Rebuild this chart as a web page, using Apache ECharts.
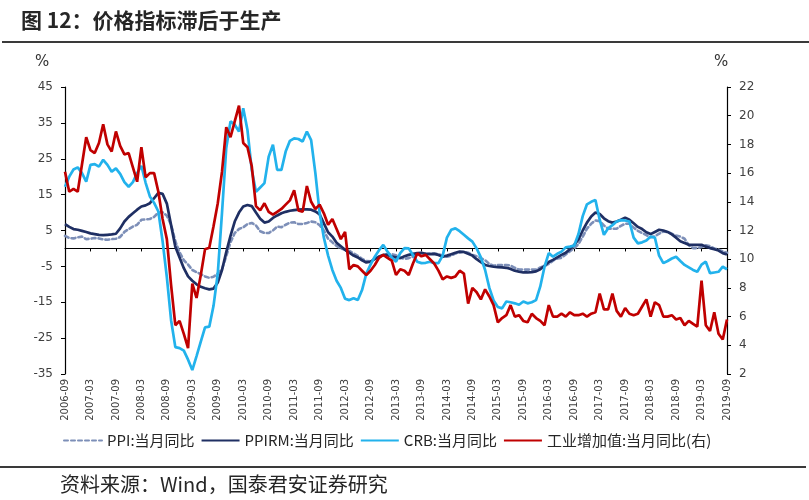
<!DOCTYPE html>
<html><head><meta charset="utf-8">
<script src="https://cdn.jsdelivr.net/npm/echarts@6/dist/echarts.min.js"></script>
<style>html,body{margin:0;padding:0;background:#fff}#c{width:809px;height:500px}</style>
</head><body><div id="c"></div><script>
// categories: monthly 2006-09 .. 2019-09
const startYear = 2006, startMonth = 9, endYear = 2019, endMonth = 9;
const months = [];
for (let y = startYear, m = startMonth; y < endYear || (y === endYear && m <= endMonth);) {
  months.push(y + '-' + (m < 10 ? '0' + m : m));
  m++; if (m > 12) { m = 1; y++; }
}
const leftTicks = { min: -35, max: 45, step: 10 };
const rightTicks = { min: 2, max: 22, step: 2 };

const seriesNames = ['PPI:当月同比', 'PPIRM:当月同比', 'CRB:当月同比', '工业增加值:当月同比(右)'];

const ppi = [3.5,2.9,2.8,3.1,
3.3,2.6,2.7,2.9,2.8,2.5,2.4,2.6,2.7,3.2,4.6,5.4,
6.1,6.6,8.0,8.1,8.2,8.8,10.0,10.1,9.1,6.6,2.0,-1.1,
-3.3,-4.5,-6.0,-6.6,-7.2,-7.8,-8.2,-7.9,-7.0,-5.8,-2.1,1.7,
4.3,5.4,5.9,6.8,7.1,6.4,4.8,4.3,4.3,5.0,6.1,5.9,
6.6,7.2,7.3,6.8,6.8,7.1,7.5,7.3,6.5,5.0,2.7,1.7,
0.7,0.0,-0.3,-0.7,-1.4,-2.1,-2.9,-3.5,-3.6,-2.8,-2.2,-1.9,
-1.6,-1.6,-1.9,-2.6,-2.9,-2.7,-2.3,-1.6,-1.3,-1.5,-1.4,-1.4,
-1.6,-2.0,-2.3,-2.0,-1.4,-1.1,-0.9,-1.2,-1.8,-2.2,-2.7,-3.3,
-4.3,-4.8,-4.6,-4.6,-4.6,-4.8,-5.4,-5.9,-5.9,-5.9,-5.9,-5.9,
-5.3,-4.9,-4.3,-3.4,-2.8,-2.6,-1.7,-0.8,0.1,1.2,3.3,5.5,
6.9,7.8,7.6,6.4,5.5,5.5,5.5,6.3,6.9,6.9,5.8,4.9,
4.3,3.7,3.1,3.4,4.1,4.7,4.6,4.1,3.6,3.3,2.7,0.9,
0.1,0.1,0.4,0.9,0.6,0.0,-0.3,-0.8,-1.2];

const ppirm = [6.8,6.0,5.4,5.2,4.9,4.6,4.2,4.0,3.8,3.7,
3.8,3.9,4.1,5.6,7.5,8.8,9.8,10.8,11.7,12.0,
12.6,14.0,15.5,15.2,12.5,6.5,0.5,-2.5,-5.5,-7.8,
-9.0,-10.0,-10.7,-11.1,-11.4,-11.2,-9.5,-6.0,-1.0,3.5,
7.5,10.0,11.7,12.1,11.8,10.0,8.3,7.2,7.5,8.5,
9.2,9.8,10.2,10.5,10.7,10.8,10.9,10.9,10.8,10.3,
9.5,7.0,4.5,3.3,1.6,0.6,-0.4,-1.2,-2.0,-2.5,
-3.3,-3.9,-3.7,-3.0,-2.3,-1.8,-1.8,-2.3,-2.5,-2.7,
-2.2,-1.8,-1.5,-1.3,-1.2,-1.5,-1.6,-1.5,-1.8,-2.3,
-2.0,-1.6,-1.2,-0.9,-1.0,-1.5,-2.0,-3.0,-3.8,-4.6,
-4.9,-5.1,-5.2,-5.3,-5.4,-5.7,-6.2,-6.5,-6.7,-6.7,
-6.6,-6.4,-5.8,-4.8,-3.8,-3.2,-2.5,-1.8,-1.2,-0.2,
1.0,2.5,5.0,7.2,8.9,10.0,9.6,8.4,7.6,7.2,
7.5,8.0,8.6,8.0,7.0,6.0,5.4,4.5,4.0,4.6,
5.2,5.0,4.6,3.9,3.0,2.0,1.5,1.0,1.0,1.0,
1.0,0.5,0.1,-0.2,-0.6,-1.3,-1.7];

const crb = [17.2,20.0,22.0,22.6,21.0,18.6,23.3,23.5,22.8,24.7,
23.3,21.4,22.3,20.8,18.5,17.2,18.5,21.0,23.0,18.3,
14.5,12.7,10.3,2.0,-8.0,-20.0,-27.5,-27.8,-28.5,-31.0,
-33.9,-30.0,-26.0,-22.0,-21.8,-16.0,-7.0,10.0,28.0,35.4,
34.5,32.6,39.1,33.0,22.0,15.8,17.0,18.2,25.6,28.9,
21.9,21.9,27.0,30.0,30.7,30.5,29.8,32.6,30.2,21.0,
10.0,3.0,-2.0,-6.0,-9.0,-11.0,-14.0,-14.4,-13.9,-14.4,
-11.6,-7.0,-4.5,-2.3,-0.5,1.0,-0.9,-2.5,-3.7,-1.3,
0.1,0.0,-1.8,-3.7,-4.1,-4.0,-3.7,-4.1,-4.1,-2.0,
3.0,5.2,5.6,4.8,3.8,2.8,1.9,0.0,-2.5,-6.0,
-11.0,-14.5,-16.3,-16.7,-14.8,-15.0,-15.3,-15.7,-14.8,-15.3,
-15.0,-14.4,-10.6,-5.1,-1.3,-2.3,-1.5,-0.9,0.3,0.5,
0.8,4.0,9.0,12.3,13.0,13.5,8.0,3.8,5.6,6.5,
7.5,7.9,7.8,7.5,3.0,1.4,1.7,2.2,3.3,3.0,
-2.0,-4.1,-3.5,-2.8,-2.3,-3.5,-4.6,-5.3,-6.0,-6.5,
-4.5,-3.7,-6.9,-6.7,-6.5,-5.1,-5.8];

const iva = [16.1,14.7,14.9,14.7,
16.6,18.5,17.6,17.4,18.1,19.4,18.0,17.5,18.9,17.9,17.3,17.4,
16.4,15.4,17.8,15.7,16.0,16.0,14.7,12.8,11.4,8.2,5.4,5.7,
4.8,3.8,8.3,7.3,8.9,10.7,10.8,12.3,13.9,16.1,19.2,18.5,
19.6,20.7,18.1,17.8,16.5,13.7,13.4,13.9,13.3,13.1,13.3,13.5,
13.8,14.1,14.8,13.4,13.3,15.1,14.0,13.5,13.8,13.2,12.4,12.8,
12.1,11.4,11.9,9.3,9.6,9.5,9.2,8.9,9.2,9.6,10.1,10.3,
10.1,9.9,8.9,9.3,9.2,8.9,9.7,10.4,10.2,10.3,10.0,9.7,
9.2,8.6,8.8,8.7,8.8,9.2,9.0,6.9,8.0,7.7,7.2,7.9,
7.4,6.8,5.6,5.9,6.1,6.8,6.0,6.1,5.7,5.6,6.2,5.9,
5.7,5.4,6.8,6.0,6.0,6.2,6.0,6.3,6.1,6.1,6.2,6.0,
6.2,6.3,7.6,6.5,6.5,7.6,6.4,6.0,6.6,6.2,6.1,6.2,
6.7,7.2,6.0,7.0,6.8,6.0,6.0,6.1,5.8,5.9,5.4,5.7,
5.5,5.3,8.5,5.4,5.0,6.3,4.8,4.4,5.8];

const chart = echarts.init(document.getElementById('c'), null, { renderer: 'canvas' });
const axisFont = 'DejaVu Sans';
const cjk = 'Noto Sans CJK SC';
const lw = 2.7;

const option = {
  animation: false,
  backgroundColor: '#fff',
  title: {
    text: '图 12：价格指标滞后于生产', left: 16, top: 5,
    textStyle: { fontFamily: cjk, fontSize: 21, fontWeight: 'bold', color: '#262626' }
  },
  graphic: [
    { type: 'line', shape: { x1: 2, y1: 42, x2: 809, y2: 42 }, style: { stroke: '#3a3a3a', lineWidth: 2 } },
    { type: 'line', shape: { x1: 0, y1: 467, x2: 806, y2: 467 }, style: { stroke: '#3a3a3a', lineWidth: 2 } },
    { type: 'text', left: 60, top: 474, style: { text: '资料来源：Wind，国泰君安证券研究', fontFamily: cjk, fontSize: 20, fill: '#262626' } },
    { type: 'text', left: 35, top: 55, style: { text: '%', fontFamily: axisFont, fontSize: 15, fill: '#333' } },
    { type: 'text', left: 714, top: 55, style: { text: '%', fontFamily: axisFont, fontSize: 15, fill: '#333' } }
  ],
  legend: {
    left: 58, top: 428, itemWidth: 38, itemHeight: 10, itemGap: 6,
    itemStyle: { color: 'transparent', borderColor: 'transparent', borderWidth: 0, opacity: 0 },
    textStyle: { fontFamily: cjk, fontSize: 15, color: '#262626' },
    data: seriesNames
  },
  grid: { left: 65, right: 82, top: 87, bottom: 126, outerBoundsMode: 'none' },
  xAxis: [
    {
      type: 'category', data: months, boundaryGap: false, position: 'bottom',
      axisLine: { show: false, onZero: false }, axisTick: { show: false },
      axisLabel: { interval: 5, rotate: 90, margin: 5, fontFamily: axisFont, fontSize: 10, color: '#404040' },
      splitLine: { show: false }
    },
    {
      type: 'category', data: months, boundaryGap: false, position: 'bottom',
      axisLine: { show: true, onZero: true, onZeroAxisIndex: 0, lineStyle: { color: '#000', width: 1.2 } },
      axisTick: { show: true, interval: 5, length: 3, inside: false, lineStyle: { color: '#000' } },
      axisLabel: { show: false }, splitLine: { show: false }
    }
  ],
  yAxis: [
    {
      type: 'value', position: 'left', min: leftTicks.min, max: leftTicks.max, interval: leftTicks.step,
      axisLine: { show: true, lineStyle: { color: '#000', width: 1.2 } },
      axisTick: { show: true, length: 4, lineStyle: { color: '#000' } },
      axisLabel: { margin: 12, fontFamily: axisFont, fontSize: 12, color: '#404040' },
      splitLine: { show: false }
    },
    {
      type: 'value', position: 'right', min: rightTicks.min, max: rightTicks.max, interval: rightTicks.step,
      axisLine: { show: true, lineStyle: { color: '#000', width: 1.2 } },
      axisTick: { show: true, length: 4, lineStyle: { color: '#000' } },
      axisLabel: { margin: 12, fontFamily: axisFont, fontSize: 12, color: '#404040' },
      splitLine: { show: false }
    }
  ],
  series: [
    { name: seriesNames[0], type: 'line', data: ppi, xAxisIndex: 0, yAxisIndex: 0, showSymbol: false, symbol: 'none',
      itemStyle: { color: '#7D8FB8' },
      lineStyle: { color: '#7D8FB8', width: 2.6, type: [4, 3], cap: 'round' } },
    { name: seriesNames[1], type: 'line', data: ppirm, xAxisIndex: 0, yAxisIndex: 0, showSymbol: false, symbol: 'none',
      itemStyle: { color: '#1F2F63' },
      lineStyle: { color: '#1F2F63', width: lw } },
    { name: seriesNames[2], type: 'line', data: crb, xAxisIndex: 0, yAxisIndex: 0, showSymbol: false, symbol: 'none',
      itemStyle: { color: '#22B2EC' },
      lineStyle: { color: '#22B2EC', width: lw } },
    { name: seriesNames[3], type: 'line', data: iva, xAxisIndex: 0, yAxisIndex: 1, showSymbol: false, symbol: 'none',
      itemStyle: { color: '#C00000' },
      lineStyle: { color: '#C00000', width: lw } }
  ]
};
chart.setOption(option);
</script></body></html>
